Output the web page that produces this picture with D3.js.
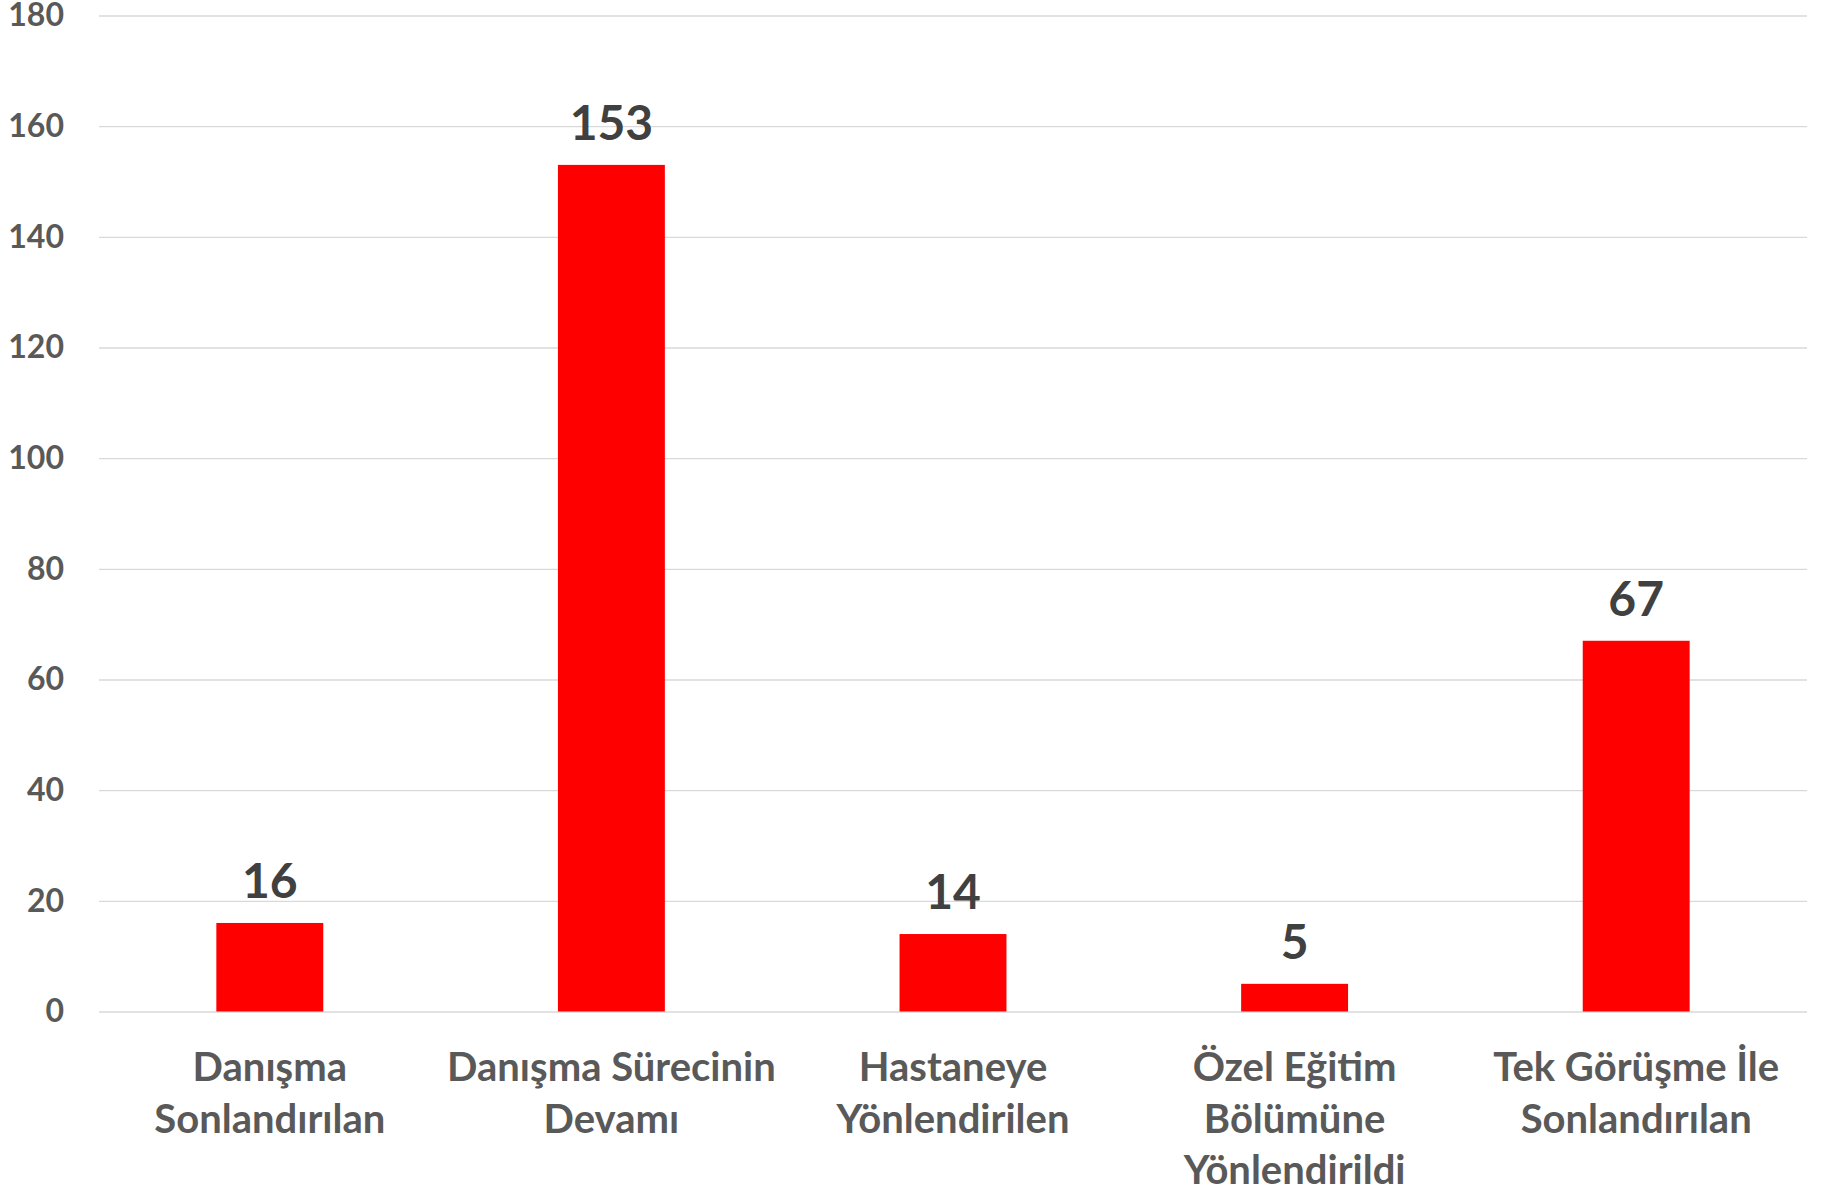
<!DOCTYPE html>
<html>
<head>
<meta charset="utf-8">
<script src="https://cdn.jsdelivr.net/npm/d3@7"></script>
<style>
  body { margin: 0; background: #fff; }
  text { font-family: Lato, "Open Sans", sans-serif; font-weight: bold; }
</style>
</head>
<body>
<script>
// chart data
var categories = [
  "Danışma Sonlandırılan",
  "Danışma Sürecinin Devamı",
  "Hastaneye Yönlendirilen",
  "Özel Eğitim Bölümüne Yönlendirildi",
  "Tek Görüşme İle Sonlandırılan"
];
var categoryLines = [
  ["Danışma", "Sonlandırılan"],
  ["Danışma Sürecinin", "Devamı"],
  ["Hastaneye", "Yönlendirilen"],
  ["Özel Eğitim", "Bölümüne", "Yönlendirildi"],
  ["Tek Görüşme İle", "Sonlandırılan"]
];
var values = [16, 153, 14, 5, 67];
var yTicks = [0, 20, 40, 60, 80, 100, 120, 140, 160, 180];

var svgWidth = 1831;
var svgHeight = 1189;
var plot = {left: 99, right: 1807, top: 15.5, bottom: 1011.5};

var svg = d3.select("body")
  .append("svg")
  .attr("width", svgWidth)
  .attr("height", svgHeight);

var x = d3.scaleBand()
  .domain(categories)
  .range([plot.left, plot.right])
  .paddingInner(0.687)
  .paddingOuter(0.3435);

var y = d3.scaleLinear()
  .domain([0, 180])
  .range([plot.bottom, plot.top]);

// gridlines + y labels
var yAxis = svg.append("g")
  .attr("transform", "translate(" + plot.left + ",0)")
  .call(d3.axisLeft(y)
    .tickValues(yTicks)
    .tickSize(-(plot.right - plot.left))
    .tickPadding(35));

yAxis.select(".domain").remove();
yAxis.selectAll("line")
  .attr("stroke", "#d9d9d9")
  .attr("stroke-width", 1.3);
yAxis.selectAll("text")
  .attr("fill", "#595959")
  .style("font-size", "32px")
  .style("font-family", "Lato, sans-serif")
  .style("font-weight", "bold");

// bars
svg.selectAll("rect.bar")
  .data(values)
  .enter()
  .append("rect")
  .attr("class", "bar")
  .attr("x", (d, i) => x(categories[i]))
  .attr("y", d => y(d))
  .attr("width", x.bandwidth())
  .attr("height", d => y(0) - y(d))
  .attr("fill", "#ff0000");

// value labels
svg.selectAll("text.val")
  .data(values)
  .enter()
  .append("text")
  .attr("class", "val")
  .attr("x", (d, i) => x(categories[i]) + x.bandwidth() / 2)
  .attr("y", d => y(d) - 25)
  .attr("text-anchor", "middle")
  .attr("fill", "#404040")
  .style("font-size", "48px")
  .text(d => d);

// category labels
var catGroup = svg.selectAll("text.cat")
  .data(categoryLines)
  .enter()
  .append("text")
  .attr("class", "cat")
  .attr("text-anchor", "middle")
  .attr("fill", "#595959")
  .style("font-size", "40px");

catGroup.each(function(lines, i) {
  var cx = x(categories[i]) + x.bandwidth() / 2;
  d3.select(this).selectAll("tspan")
    .data(lines)
    .enter()
    .append("tspan")
    .attr("x", cx)
    .attr("y", (d, j) => 1081 + j * 51.5)
    .text(d => d);
});
</script>
</body>
</html>
